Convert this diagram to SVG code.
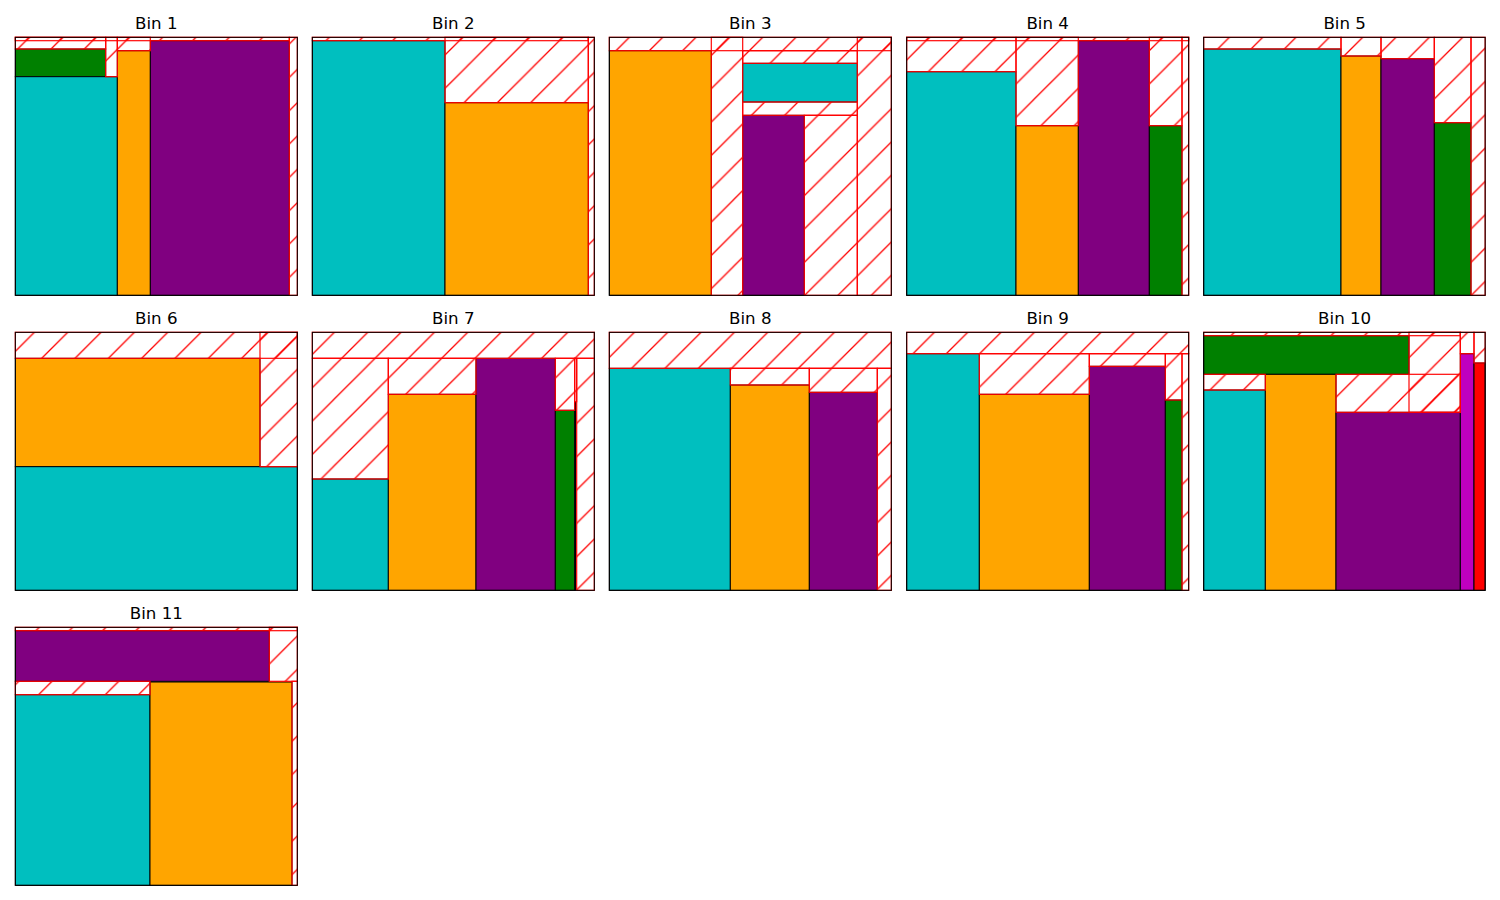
<svg xmlns="http://www.w3.org/2000/svg" width="1500" height="900" viewBox="0 0 1500 900">
<defs>
<pattern id="hatch" patternUnits="userSpaceOnUse" x="0" y="0" width="33.3333" height="33.3333">
<path d="M-2,35.3333 L35.3333,-2 M-2,2 L2,-2 M31.3333,35.3333 L35.3333,31.3333" stroke="#ff0000" stroke-width="1.3" fill="none"/>
</pattern>
</defs>
<style>
.t{font-family:"DejaVu Sans",sans-serif;font-size:16.67px;fill:#000;text-anchor:middle}
.it{stroke:#000;stroke-width:1}
.c{fill:#00bfbf}.o{fill:#ffa500}.p{fill:#800080}.g{fill:#008000}.m{fill:#bf00bf}.r{fill:#ff0000}
.fr{fill:url(#hatch);stroke:#ff0000;stroke-width:1.3;stroke-opacity:0.9}
.ax{fill:none;stroke:#000;stroke-width:1}
.bg{fill:#fff}
</style>
<rect x="0" y="0" width="1500" height="900" fill="#fff"/>

<g id="bin1">
<text class="t" x="156.33" y="29.3">Bin 1</text>
<rect class="bg" x="15.33" y="37.33" width="282" height="258"/>
<rect class="it g" x="15.33" y="49" width="90.34" height="27.67"/>
<rect class="it c" x="15.33" y="76.67" width="102" height="218.66"/>
<rect class="it o" x="117.33" y="50.67" width="33" height="244.66"/>
<rect class="it p" x="150.33" y="40.67" width="139" height="254.66"/>
<rect class="fr" x="15.33" y="37.33" width="274" height="3.34"/>
<rect class="fr" x="15.33" y="37.33" width="90.34" height="11.67"/>
<rect class="fr" x="105.67" y="37.33" width="11.66" height="39.34"/>
<rect class="fr" x="117.33" y="37.33" width="33" height="13.34"/>
<rect class="fr" x="289.33" y="37.33" width="8" height="258"/>
<rect class="ax" x="15.33" y="37.33" width="282" height="258"/>
</g>

<g id="bin2">
<text class="t" x="453.33" y="29.3">Bin 2</text>
<rect class="bg" x="312.33" y="37.33" width="282" height="258"/>
<rect class="it c" x="312.33" y="40.67" width="132.67" height="254.66"/>
<rect class="it o" x="445" y="102.67" width="143.33" height="192.66"/>
<rect class="fr" x="312.33" y="37.33" width="276" height="3.34"/>
<rect class="fr" x="445" y="37.33" width="143.33" height="65.34"/>
<rect class="fr" x="588.33" y="37.33" width="6" height="258"/>
<rect class="ax" x="312.33" y="37.33" width="282" height="258"/>
</g>

<g id="bin3">
<text class="t" x="750.33" y="29.3">Bin 3</text>
<rect class="bg" x="609.33" y="37.33" width="282" height="258"/>
<rect class="it o" x="609.33" y="50.67" width="102" height="244.66"/>
<rect class="it c" x="742.67" y="63.33" width="114.66" height="38.67"/>
<rect class="it p" x="742.67" y="115.33" width="61.66" height="180"/>
<rect class="fr" x="609.33" y="37.33" width="282" height="13.34"/>
<rect class="fr" x="711.33" y="37.33" width="31.34" height="258"/>
<rect class="fr" x="857.33" y="37.33" width="34" height="258"/>
<rect class="fr" x="742.67" y="50.67" width="114.66" height="12.66"/>
<rect class="fr" x="742.67" y="102" width="114.66" height="13.33"/>
<rect class="fr" x="804.33" y="115.33" width="53" height="180"/>
<rect class="ax" x="609.33" y="37.33" width="282" height="258"/>
</g>

<g id="bin4">
<text class="t" x="1047.67" y="29.3">Bin 4</text>
<rect class="bg" x="906.67" y="37.33" width="282" height="258"/>
<rect class="it c" x="906.67" y="71.67" width="109.33" height="223.66"/>
<rect class="it o" x="1016" y="125.67" width="62.33" height="169.66"/>
<rect class="it p" x="1078.33" y="40.67" width="71" height="254.66"/>
<rect class="it g" x="1149.33" y="125.67" width="32.67" height="169.66"/>
<rect class="fr" x="906.67" y="37.33" width="282" height="3.34"/>
<rect class="fr" x="906.67" y="37.33" width="109.33" height="34.34"/>
<rect class="fr" x="1016" y="37.33" width="62.33" height="88.34"/>
<rect class="fr" x="1149.33" y="37.33" width="32.67" height="88.34"/>
<rect class="fr" x="1182" y="37.33" width="6.67" height="258"/>
<rect class="ax" x="906.67" y="37.33" width="282" height="258"/>
</g>

<g id="bin5">
<text class="t" x="1344.67" y="29.3">Bin 5</text>
<rect class="bg" x="1203.67" y="37.33" width="281.5" height="258"/>
<rect class="it c" x="1203.67" y="49" width="137.33" height="246.33"/>
<rect class="it o" x="1341" y="56" width="40" height="239.33"/>
<rect class="it p" x="1381" y="58.67" width="53.33" height="236.66"/>
<rect class="it g" x="1434.33" y="122.67" width="36.67" height="172.66"/>
<rect class="fr" x="1203.67" y="37.33" width="137.33" height="11.67"/>
<rect class="fr" x="1341" y="37.33" width="40" height="18.67"/>
<rect class="fr" x="1381" y="37.33" width="53.33" height="21.34"/>
<rect class="fr" x="1434.33" y="37.33" width="36.67" height="85.34"/>
<rect class="fr" x="1471" y="37.33" width="14.17" height="258"/>
<rect class="ax" x="1203.67" y="37.33" width="281.5" height="258"/>
</g>

<g id="bin6">
<text class="t" x="156.33" y="324.3">Bin 6</text>
<rect class="bg" x="15.33" y="332.33" width="282" height="258"/>
<rect class="it o" x="15.33" y="358.33" width="244.67" height="108.34"/>
<rect class="it c" x="15.33" y="466.67" width="282" height="123.66"/>
<rect class="fr" x="15.33" y="332.33" width="282" height="26"/>
<rect class="fr" x="260" y="332.33" width="37.33" height="134.34"/>
<rect class="ax" x="15.33" y="332.33" width="282" height="258"/>
</g>

<g id="bin7">
<text class="t" x="453.33" y="324.3">Bin 7</text>
<rect class="bg" x="312.33" y="332.33" width="282" height="258"/>
<rect class="it c" x="312.33" y="479" width="76" height="111.33"/>
<rect class="it o" x="388.33" y="394.33" width="87.67" height="196"/>
<rect class="it p" x="476" y="358.33" width="79.33" height="232"/>
<rect class="it g" x="555.33" y="410.33" width="19.34" height="180"/>
<rect class="it m" x="574.67" y="401.67" width="1" height="188.66"/>
<rect class="fr" x="312.33" y="332.33" width="282" height="26"/>
<rect class="fr" x="312.33" y="358.33" width="76" height="120.67"/>
<rect class="fr" x="388.33" y="358.33" width="87.67" height="36"/>
<rect class="fr" x="555.33" y="358.33" width="19.34" height="52"/>
<rect class="fr" x="574.67" y="358.33" width="2" height="43.34"/>
<rect class="fr" x="576.67" y="358.33" width="17.66" height="232"/>
<rect class="ax" x="312.33" y="332.33" width="282" height="258"/>
</g>

<g id="bin8">
<text class="t" x="750.33" y="324.3">Bin 8</text>
<rect class="bg" x="609.33" y="332.33" width="282" height="258"/>
<rect class="it c" x="609.33" y="368.33" width="121" height="222"/>
<rect class="it o" x="730.33" y="385" width="79" height="205.33"/>
<rect class="it p" x="809.33" y="392.33" width="68" height="198"/>
<rect class="fr" x="609.33" y="332.33" width="282" height="36"/>
<rect class="fr" x="730.33" y="368.33" width="79" height="16.67"/>
<rect class="fr" x="809.33" y="368.33" width="68" height="24"/>
<rect class="fr" x="877.33" y="368.33" width="14" height="222"/>
<rect class="ax" x="609.33" y="332.33" width="282" height="258"/>
</g>

<g id="bin9">
<text class="t" x="1047.67" y="324.3">Bin 9</text>
<rect class="bg" x="906.67" y="332.33" width="282" height="258"/>
<rect class="it c" x="906.67" y="353.67" width="72.66" height="236.66"/>
<rect class="it o" x="979.33" y="394.33" width="110" height="196"/>
<rect class="it p" x="1089.33" y="366.33" width="76" height="224"/>
<rect class="it g" x="1165.33" y="400" width="16.67" height="190.33"/>
<rect class="fr" x="906.67" y="332.33" width="282" height="21.34"/>
<rect class="fr" x="979.33" y="353.67" width="110" height="40.66"/>
<rect class="fr" x="1089.33" y="353.67" width="76" height="12.66"/>
<rect class="fr" x="1165.33" y="353.67" width="16.67" height="46.33"/>
<rect class="fr" x="1182" y="353.67" width="6.67" height="236.66"/>
<rect class="ax" x="906.67" y="332.33" width="282" height="258"/>
</g>

<g id="bin10">
<text class="t" x="1344.67" y="324.3">Bin 10</text>
<rect class="bg" x="1203.67" y="332.33" width="281.5" height="258"/>
<rect class="it g" x="1203.67" y="335.67" width="205.33" height="38.66"/>
<rect class="it c" x="1203.67" y="390" width="61.66" height="200.33"/>
<rect class="it o" x="1265.33" y="374.33" width="70.67" height="216"/>
<rect class="it p" x="1336" y="412.33" width="124.33" height="178"/>
<rect class="it m" x="1460.33" y="353.67" width="13.67" height="236.66"/>
<rect class="it r" x="1474" y="363" width="11.17" height="227.33"/>
<rect class="fr" x="1203.67" y="332.33" width="256.66" height="3.34"/>
<rect class="fr" x="1203.67" y="374.33" width="61.66" height="15.67"/>
<rect class="fr" x="1336" y="374.33" width="124.33" height="38"/>
<rect class="fr" x="1409" y="332.33" width="51.33" height="80"/>
<rect class="fr" x="1460.33" y="332.33" width="13.67" height="21.34"/>
<rect class="fr" x="1474" y="332.33" width="11.17" height="30.67"/>
<rect class="ax" x="1203.67" y="332.33" width="281.5" height="258"/>
</g>

<g id="bin11">
<text class="t" x="156.33" y="619.3">Bin 11</text>
<rect class="bg" x="15.33" y="627.33" width="282" height="258"/>
<rect class="it p" x="15.33" y="630.67" width="254" height="50.66"/>
<rect class="it c" x="15.33" y="694.67" width="134.67" height="190.66"/>
<rect class="it o" x="150" y="682" width="142" height="203.33"/>
<rect class="fr" x="15.33" y="627.33" width="282" height="3.34"/>
<rect class="fr" x="269.33" y="627.33" width="28" height="54"/>
<rect class="fr" x="15.33" y="681.33" width="134.67" height="13.34"/>
<rect class="fr" x="292" y="681.33" width="5.33" height="204"/>
<rect class="ax" x="15.33" y="627.33" width="282" height="258"/>
</g>

<g id="connectors"></g>
</svg>
